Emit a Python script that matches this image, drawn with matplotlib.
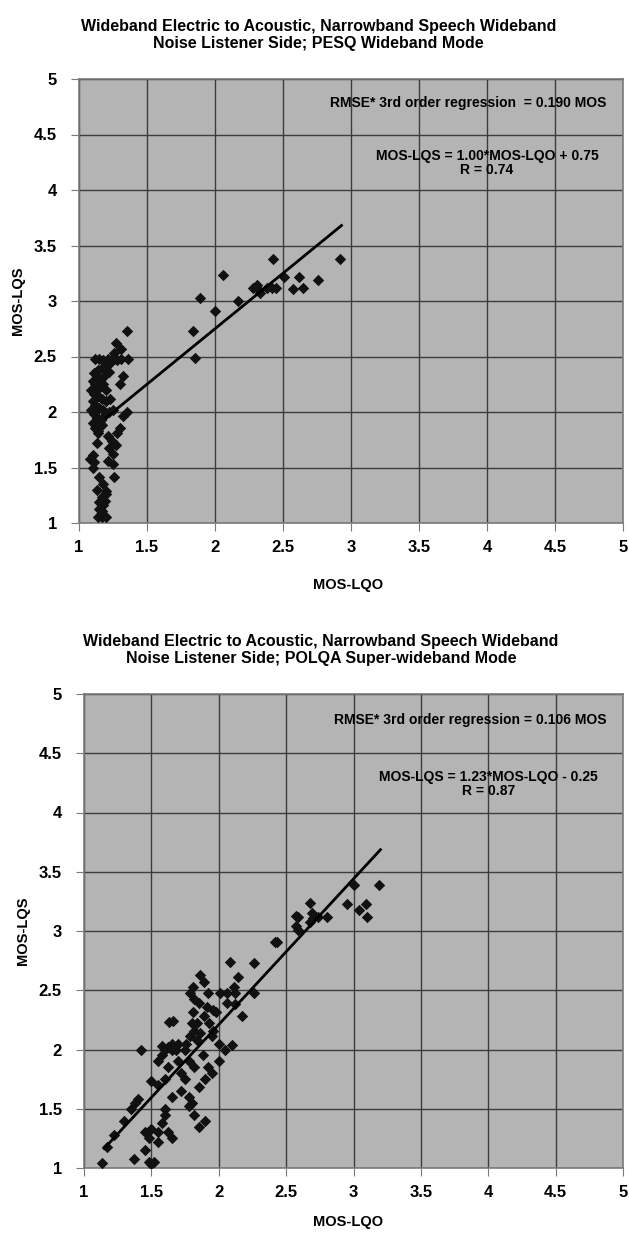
import matplotlib
matplotlib.use("Agg")
import matplotlib.pyplot as plt
import numpy as np

plt.rcParams["font.family"] = ["Liberation Sans", "DejaVu Sans"]
plt.rcParams["font.weight"] = "bold"

# PESQ wideband mode (top panel)
pesq_lqo = [
    1.12, 1.15, 1.18, 1.21, 1.25, 1.28, 1.31, 1.36,
    1.35, 1.27, 1.26, 1.31, 1.23, 1.20, 1.17, 1.14,
    1.11, 1.13, 1.16, 1.19, 1.22, 1.10, 1.12, 1.15, 1.18, 1.20,
    1.09, 1.11, 1.14, 1.17, 1.20, 1.23, 1.10, 1.12, 1.15, 1.18,
    1.09, 1.11, 1.13, 1.16, 1.19, 1.22, 1.25, 1.10, 1.12, 1.14, 1.17,
    1.32, 1.30, 1.35, 1.32, 1.30, 1.28, 1.21, 1.24, 1.27, 1.22, 1.25, 1.21, 1.25, 1.26, 1.13, 1.14,
    1.10, 1.11, 1.10, 1.08,
    1.15, 1.18, 1.20, 1.17, 1.19, 1.15, 1.20, 1.15, 1.17, 1.14, 1.17, 1.20, 1.16, 1.13, 1.18,
    1.84, 1.85, 1.89, 2.00, 2.06, 2.17, 2.28, 2.31, 2.32, 2.38, 2.42, 2.45,
    2.43, 2.51, 2.57, 2.62, 2.65, 2.76, 2.92, 2.33,
]
pesq_lqs = [
    2.48, 2.48, 2.47, 2.48, 2.49, 2.47, 2.48, 2.48,
    2.73, 2.62, 2.53, 2.57, 2.44, 2.42, 2.40, 2.38,
    2.35, 2.32, 2.30, 2.33, 2.36, 2.28, 2.25, 2.22, 2.25, 2.20,
    2.20, 2.16, 2.14, 2.12, 2.10, 2.12, 2.10, 2.06, 2.04, 2.02,
    2.02, 1.98, 1.95, 1.93, 1.97, 2.00, 2.02, 1.90, 1.86, 1.83, 1.88,
    2.32, 2.25, 2.00, 1.96, 1.86, 1.81, 1.78, 1.74, 1.70, 1.68, 1.62, 1.56, 1.53, 1.41, 1.72, 1.81,
    1.61, 1.55, 1.50, 1.58,
    1.41, 1.35, 1.29, 1.23, 1.20, 1.19, 1.26, 1.13, 1.11, 1.05, 1.05, 1.05, 1.08, 1.30, 1.16,
    2.73, 2.49, 3.03, 2.91, 3.23, 3.00, 3.12, 3.14, 3.10, 3.12, 3.12, 3.12,
    3.38, 3.22, 3.11, 3.22, 3.12, 3.19, 3.38, 3.07,
]

# POLQA super-wideband mode (bottom panel)
polqa_lqo = [
    2.42, 2.08, 2.26, 1.86, 1.89, 2.14, 1.81, 1.79, 1.82,
    1.92, 2.01, 2.06, 2.12, 2.26, 2.11, 1.85, 1.91, 1.96, 1.98,
    2.06, 2.12, 1.81, 1.89, 1.84, 1.93, 2.17, 1.63, 1.66,
    1.80, 1.82, 1.86, 1.79, 1.84, 1.96, 1.95, 1.76, 1.58, 1.62, 1.65, 2.10, 1.42,
    3.19, 3.00, 2.95, 3.04, 3.09, 3.10, 2.68, 2.57, 2.59, 2.69, 2.70, 2.74, 2.80,
    2.68, 2.57, 2.59, 2.43,
    1.13, 1.17, 1.22, 1.30, 1.35, 1.38, 1.40,
    1.37, 1.45, 1.48, 1.50, 1.52, 1.45, 1.48, 1.50, 1.55, 1.55, 1.60, 1.60, 1.58,
    1.62, 1.65, 1.50, 1.55, 1.60, 1.55, 1.58, 1.60, 1.65, 1.70, 1.72, 1.75, 1.72,
    1.78, 1.80, 1.82, 1.78, 1.85, 1.90, 1.85, 1.90, 1.95, 1.88, 1.92, 2.00, 2.05,
    2.00, 1.65, 1.62, 1.68, 1.70, 1.75, 1.78, 1.82,
]
polqa_lqs = [
    2.91, 2.74, 2.73, 2.63, 2.57, 2.61, 2.53, 2.48, 2.43,
    2.48, 2.48, 2.48, 2.48, 2.48, 2.53, 2.39, 2.36, 2.33, 2.32,
    2.39, 2.38, 2.32, 2.28, 2.22, 2.22, 2.28, 2.23, 2.24,
    2.22, 2.16, 2.14, 2.11, 2.08, 2.16, 2.11, 2.05, 2.03, 2.02, 2.00, 2.04, 2.00,
    3.39, 3.39, 3.23, 3.18, 3.23, 3.12, 3.24, 3.13, 3.12, 3.15, 3.11, 3.12, 3.12,
    3.08, 3.04, 3.01, 2.91,
    1.04, 1.18, 1.28, 1.40, 1.50, 1.55, 1.58,
    1.08, 1.15, 1.05, 1.03, 1.05, 1.30, 1.25, 1.33, 1.22, 1.30, 1.50, 1.45, 1.38,
    1.30, 1.25, 1.73, 1.70, 1.75, 1.90, 1.95, 2.00, 2.05, 1.90, 1.80, 1.75, 1.65,
    1.60, 1.55, 1.45, 1.52, 1.35, 1.40, 1.68, 1.75, 1.80, 1.95, 1.85, 1.90, 2.00,
    2.05, 1.60, 1.85, 2.00, 2.05, 2.00, 1.90, 1.85,
]

# linear fits shown on the chart: slope, intercept and x range of the drawn line
pesq_fit = (1.00, 0.75, 1.20, 2.93)
polqa_fit = (1.23, -0.25, 1.15, 3.20)

titles = [
    "Wideband Electric to Acoustic, Narrowband Speech Wideband\nNoise Listener Side; PESQ Wideband Mode",
    "Wideband Electric to Acoustic, Narrowband Speech Wideband\nNoise Listener Side; POLQA Super-wideband Mode",
]
rmse_texts = [
    "RMSE* 3rd order regression  = 0.190 MOS",
    "RMSE* 3rd order regression = 0.106 MOS",
]
eq_texts = [
    "MOS-LQS = 1.00*MOS-LQO + 0.75\nR = 0.74",
    "MOS-LQS = 1.23*MOS-LQO - 0.25\nR = 0.87",
]
ticks = [1, 1.5, 2, 2.5, 3, 3.5, 4, 4.5, 5]
tick_labels = ["1", "1.5", "2", "2.5", "3", "3.5", "4", "4.5", "5"]

fig = plt.figure(figsize=(6.29, 12.36), dpi=100)
W, H = 629, 1236
boxes = [(79, 79, 623, 523), (84, 694, 623, 1168)]
xlabel_y = [585, 1222]
panels = [(pesq_lqo, pesq_lqs, pesq_fit), (polqa_lqo, polqa_lqs, polqa_fit)]

for i, ((x, y, fit), (l, t, r, b)) in enumerate(zip(panels, boxes)):
    ax = fig.add_axes([l / W, 1 - b / H, (r - l) / W, (b - t) / H])
    ax.set_facecolor("#b4b4b4")
    ax.set_xlim(1, 5)
    ax.set_ylim(1, 5)
    ax.set_xticks(ticks)
    ax.set_yticks(ticks)
    ax.set_xticklabels(tick_labels, fontsize=12, fontweight="bold")
    ax.set_yticklabels(tick_labels, fontsize=12, fontweight="bold")
    ax.grid(True, color="#3c3c3c", linewidth=1.0)
    ax.set_axisbelow(True)
    for s in ax.spines.values():
        s.set_color("#7a7a7a")
        s.set_linewidth(1.2)
    ax.tick_params(direction="out", length=6, color="#7a7a7a")
    ax.tick_params(axis="y", pad=10)
    ax.tick_params(axis="x", pad=6)

    ax.scatter(x, y, marker="D", s=34, color="#111111", zorder=3, linewidths=0)
    k, c, x0, x1 = fit
    xs = np.array([x0, x1])
    ax.plot(xs, k * xs + c, color="black", linewidth=2, zorder=4)

    ax.text(4.88, 4.78, rmse_texts[i], ha="right", va="center", fontsize=10, fontweight="bold")
    ax.text(4.0, 4.24, eq_texts[i], ha="center", va="center", fontsize=10,
            fontweight="bold", linespacing=1.0)

    fig.text(348 / W, 1 - xlabel_y[i] / H, "MOS-LQO", ha="center", va="center",
             fontsize=10.5, fontweight="bold")
    ax.set_ylabel("MOS-LQS", fontsize=10.5, fontweight="bold", labelpad=6)
    ax.set_title(titles[i], fontsize=11.5, fontweight="bold", pad=22, x=0.44)

fig.savefig("out.png", dpi=100)
